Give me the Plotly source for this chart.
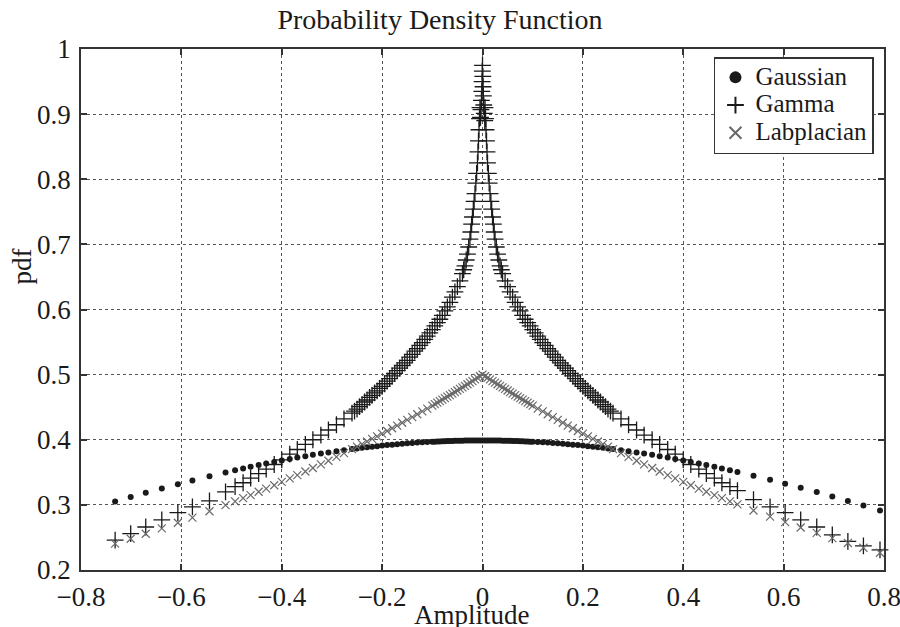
import plotly.graph_objects as go

# ---- data ----
amplitude = [
    -0.732, -0.701, -0.671, -0.639, -0.607, -0.578, -0.544, -0.512,
    -0.493, -0.477, -0.462, -0.446, -0.431, -0.415, -0.400, -0.384,
    -0.369, -0.353, -0.338, -0.322, -0.307, -0.291, -0.276, -0.260,
    -0.250, -0.240, -0.230, -0.220, -0.210, -0.200, -0.190, -0.180,
    -0.170, -0.160, -0.150, -0.140, -0.130, -0.120, -0.110, -0.100,
    -0.095, -0.090, -0.085, -0.080, -0.075, -0.070, -0.065, -0.060,
    -0.055, -0.050, -0.045, -0.040, -0.035, -0.030, -0.025, -0.020,
    -0.015, -0.010, -0.005,
    0.000,
    0.005, 0.010, 0.015, 0.020, 0.025, 0.030, 0.035, 0.040,
    0.045, 0.050, 0.055, 0.060, 0.065, 0.070, 0.075, 0.080,
    0.085, 0.090, 0.095, 0.100, 0.110, 0.120, 0.130, 0.140,
    0.150, 0.160, 0.170, 0.180, 0.190, 0.200, 0.210, 0.220,
    0.230, 0.240, 0.250, 0.260, 0.276, 0.291, 0.307, 0.322,
    0.338, 0.353, 0.369, 0.384, 0.400, 0.415, 0.431, 0.446,
    0.462, 0.477, 0.493, 0.508, 0.540, 0.573, 0.603, 0.634,
    0.666, 0.697, 0.728, 0.759, 0.792,
]

gaussian = [
    0.3052, 0.3120, 0.3185, 0.3253, 0.3318, 0.3376, 0.3441, 0.3499,
    0.3533, 0.3560, 0.3586, 0.3612, 0.3636, 0.3660, 0.3683, 0.3706,
    0.3727, 0.3748, 0.3768, 0.3788, 0.3806, 0.3824, 0.3840, 0.3857,
    0.3867, 0.3876, 0.3885, 0.3894, 0.3902, 0.3910, 0.3918, 0.3925,
    0.3932, 0.3939, 0.3945, 0.3950, 0.3956, 0.3961, 0.3965, 0.3970,
    0.3971, 0.3973, 0.3975, 0.3977, 0.3978, 0.3980, 0.3981, 0.3982,
    0.3983, 0.3984, 0.3985, 0.3986, 0.3987, 0.3988, 0.3988, 0.3989,
    0.3989, 0.3989, 0.3989,
    0.3989,
    0.3989, 0.3989, 0.3989, 0.3989, 0.3988, 0.3988, 0.3987, 0.3986,
    0.3985, 0.3984, 0.3983, 0.3982, 0.3981, 0.3980, 0.3978, 0.3977,
    0.3975, 0.3973, 0.3971, 0.3970, 0.3965, 0.3961, 0.3956, 0.3950,
    0.3945, 0.3939, 0.3932, 0.3925, 0.3918, 0.3910, 0.3902, 0.3894,
    0.3885, 0.3876, 0.3867, 0.3857, 0.3840, 0.3824, 0.3806, 0.3788,
    0.3768, 0.3748, 0.3727, 0.3706, 0.3683, 0.3660, 0.3636, 0.3612,
    0.3586, 0.3560, 0.3533, 0.3506, 0.3448, 0.3385, 0.3326, 0.3263,
    0.3196, 0.3129, 0.3061, 0.2991, 0.2915,
]

gamma = [
    0.246, 0.256, 0.266, 0.277, 0.288, 0.297, 0.306, 0.320,
    0.328, 0.334, 0.341, 0.348, 0.355, 0.362, 0.369, 0.378,
    0.385, 0.393, 0.400, 0.407, 0.415, 0.423, 0.432, 0.441,
    0.447, 0.454, 0.461, 0.468, 0.475, 0.482, 0.490, 0.498,
    0.506, 0.514, 0.522, 0.531, 0.540, 0.549, 0.559, 0.569,
    0.575, 0.580, 0.585, 0.591, 0.598, 0.604, 0.611, 0.619,
    0.627, 0.635, 0.644, 0.655, 0.667, 0.685, 0.708, 0.742,
    0.778, 0.825, 0.910,
    0.975,
    0.910, 0.825, 0.778, 0.742, 0.708, 0.685, 0.667, 0.655,
    0.644, 0.635, 0.627, 0.619, 0.611, 0.604, 0.598, 0.591,
    0.585, 0.580, 0.575, 0.569, 0.559, 0.549, 0.540, 0.531,
    0.522, 0.514, 0.506, 0.498, 0.490, 0.482, 0.475, 0.468,
    0.461, 0.454, 0.447, 0.441, 0.432, 0.423, 0.415, 0.407,
    0.400, 0.393, 0.385, 0.378, 0.369, 0.362, 0.355, 0.348,
    0.341, 0.334, 0.328, 0.322, 0.308, 0.297, 0.288, 0.277,
    0.266, 0.254, 0.244, 0.237, 0.231,
]

# extra Gamma points crowding the spike and the steep flanks
gamma_extra_x = [
    -0.0004, 0.0006, -0.0008, 0.0011, -0.0014, 0.0017, -0.0021, 0.0025,
    -0.0030, 0.0035, -0.0040, 0.0045,
    -0.0060, 0.0060, -0.0070, 0.0070, -0.0080, 0.0080, -0.0090, 0.0090,
    -0.0117, 0.0117, -0.0133, 0.0133, -0.0167, 0.0167, -0.0183, 0.0183,
    -0.0217, 0.0217, -0.0233, 0.0233, -0.0275, 0.0275, -0.0325, 0.0325,
    -0.0375, 0.0375,
    -0.105, -0.115, -0.125, -0.135, -0.145, -0.155, -0.165, -0.175,
    -0.185, -0.195, -0.205, -0.215, -0.225, -0.235, -0.245, -0.255,
    0.105, 0.115, 0.125, 0.135, 0.145, 0.155, 0.165, 0.175,
    0.185, 0.195, 0.205, 0.215, 0.225, 0.235, 0.245, 0.255,
]
gamma_extra_y = [
    0.966, 0.958, 0.950, 0.942, 0.935, 0.928, 0.921, 0.914,
    0.907, 0.901, 0.895, 0.890,
    0.893, 0.893, 0.876, 0.876, 0.859, 0.859, 0.842, 0.842,
    0.809, 0.809, 0.794, 0.794, 0.766, 0.766, 0.754, 0.754,
    0.731, 0.731, 0.719, 0.719, 0.696, 0.696, 0.676, 0.676,
    0.661, 0.661,
    0.564, 0.554, 0.545, 0.536, 0.527, 0.518, 0.510, 0.502,
    0.494, 0.486, 0.479, 0.472, 0.465, 0.458, 0.451, 0.444,
    0.564, 0.554, 0.545, 0.536, 0.527, 0.518, 0.510, 0.502,
    0.494, 0.486, 0.479, 0.472, 0.465, 0.458, 0.451, 0.444,
]

laplacian = [
    0.2405, 0.2480, 0.2556, 0.2639, 0.2725, 0.2805, 0.2902, 0.2996,
    0.3054, 0.3103, 0.3150, 0.3201, 0.3249, 0.3302, 0.3352, 0.3406,
    0.3457, 0.3513, 0.3566, 0.3623, 0.3678, 0.3738, 0.3794, 0.3855,
    0.3894, 0.3933, 0.3973, 0.4013, 0.4053, 0.4094, 0.4135, 0.4176,
    0.4218, 0.4261, 0.4304, 0.4347, 0.4391, 0.4435, 0.4479, 0.4524,
    0.4547, 0.4570, 0.4593, 0.4616, 0.4639, 0.4662, 0.4685, 0.4709,
    0.4732, 0.4756, 0.4780, 0.4804, 0.4828, 0.4852, 0.4877, 0.4901,
    0.4926, 0.4950, 0.4975,
    0.5000,
    0.4975, 0.4950, 0.4926, 0.4901, 0.4877, 0.4852, 0.4828, 0.4804,
    0.4780, 0.4756, 0.4732, 0.4709, 0.4685, 0.4662, 0.4639, 0.4616,
    0.4593, 0.4570, 0.4547, 0.4524, 0.4479, 0.4435, 0.4391, 0.4347,
    0.4304, 0.4261, 0.4218, 0.4176, 0.4135, 0.4094, 0.4053, 0.4013,
    0.3973, 0.3933, 0.3894, 0.3855, 0.3794, 0.3738, 0.3678, 0.3623,
    0.3566, 0.3513, 0.3457, 0.3406, 0.3352, 0.3302, 0.3249, 0.3201,
    0.3150, 0.3103, 0.3054, 0.3008, 0.2914, 0.2819, 0.2736, 0.2652,
    0.2569, 0.2490, 0.2414, 0.2341, 0.2265,
]

series_names = ["Gaussian", "Gamma", "Labplacian"]
x_tick_vals = [-0.8, -0.6, -0.4, -0.2, 0.0, 0.2, 0.4, 0.6, 0.8]
x_tick_labels = ["\u22120.8", "\u22120.6", "\u22120.4", "\u22120.2", "0", "0.2", "0.4", "0.6", "0.8"]
y_tick_vals = [0.2, 0.3, 0.4, 0.5, 0.6, 0.7, 0.8, 0.9, 1.0]
y_tick_labels = ["0.2", "0.3", "0.4", "0.5", "0.6", "0.7", "0.8", "0.9", "1"]

FONT = "Liberation Serif, Times New Roman, serif"
INK = "#1a1a1a"


def legend_label(s):
    return "<span style='font-size:25px'>" + s + "</span>"


fig = go.Figure()
fig.add_trace(go.Scatter(
    x=amplitude, y=gaussian, mode="markers", name=legend_label(series_names[0]),
    marker=dict(symbol="circle", size=6, color=INK),
    cliponaxis=False,
))
fig.add_trace(go.Scatter(
    x=gamma_extra_x + amplitude, y=gamma_extra_y + gamma, mode="markers",
    name=legend_label(series_names[1]),
    marker=dict(symbol="cross-thin", size=12, color=INK,
                line=dict(color=INK, width=1.3)),
    cliponaxis=False,
))
fig.add_trace(go.Scatter(
    x=amplitude, y=laplacian, mode="markers", name=legend_label(series_names[2]),
    marker=dict(symbol="x-thin", size=8, color="#6a6a6a",
                line=dict(color="#6a6a6a", width=1.2)),
    cliponaxis=False,
))

axis_common = dict(
    showline=True, linecolor="#333333", linewidth=1.5, mirror="ticks",
    ticks="inside", ticklen=6, tickcolor="#333333", tickwidth=1.5,
    showgrid=True, gridcolor="#555555", gridwidth=1, griddash="dot",
    zeroline=False, ticklabeloverflow="allow", automargin=False,
    tickfont=dict(family=FONT, size=27, color=INK),
)

fig.update_layout(
    width=900, height=627,
    margin=dict(l=81, r=16, t=49, b=57, autoexpand=False),
    paper_bgcolor="white", plot_bgcolor="white",
    font=dict(family=FONT, size=26, color=INK),
    title=dict(text="Probability Density Function", x=440 / 900, xanchor="center",
               y=1 - 9 / 627, yanchor="top", yref="container",
               font=dict(family=FONT, size=28, color=INK)),
    xaxis=dict(range=[-0.8, 0.8], tickvals=x_tick_vals, ticktext=x_tick_labels,
               ticklabelstandoff=2, **axis_common),
    yaxis=dict(range=[0.2, 1.0], tickvals=y_tick_vals, ticktext=y_tick_labels,
               ticklabelstandoff=3, **axis_common),
    legend=dict(x=0.9875, y=0.9846, xanchor="right", yanchor="top",
                bgcolor="white", bordercolor="#333333", borderwidth=1.5,
                font=dict(family=FONT, size=19, color=INK),
                itemsizing="constant", tracegroupgap=0, itemwidth=30),
    showlegend=True,
    annotations=[
        dict(text="pdf", x=-0.074, y=0.5816, xref="paper", yref="paper",
             textangle=-90, showarrow=False, xanchor="center", yanchor="middle",
             font=dict(family=FONT, size=27, color=INK)),
        dict(text="Amplitude", x=0.487, y=-0.053, xref="paper", yref="paper",
             showarrow=False, xanchor="center", yanchor="top",
             font=dict(family=FONT, size=27, color=INK)),
    ],
)

fig.write_html("out.html")
